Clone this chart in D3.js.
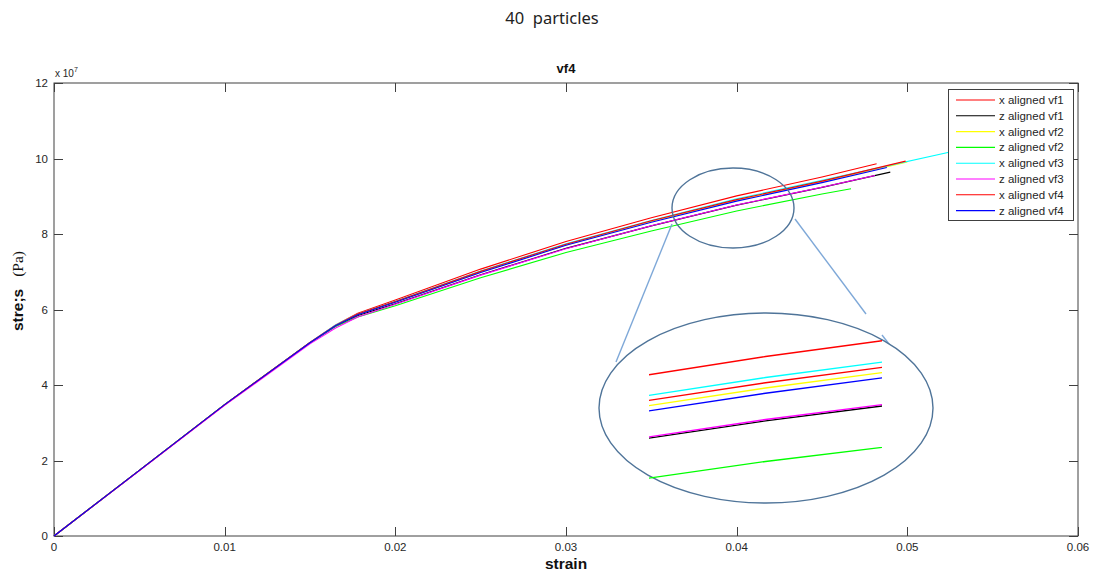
<!DOCTYPE html>
<html>
<head>
<meta charset="utf-8">
<script src="https://cdn.jsdelivr.net/npm/d3@7"></script>
<style>
  html, body { margin: 0; padding: 0; background: #fff; }
  svg { display: block; }
  text { white-space: pre; }
</style>
</head>
<body>
<svg id="chart" width="1099" height="577"></svg>
<script>
// ---------------- DATA (stress in units of 1e7 Pa) ----------------
const strainGrid = [0, 0.005, 0.010, 0.015, 0.0165, 0.0178, 0.020, 0.025, 0.030, 0.035, 0.040, 0.045];

const xAlignedVf1 = [0, 1.74, 3.48, 5.13, 5.59, 5.90, 6.25, 7.07, 7.80, 8.43, 9.01, 9.51];
const zAlignedVf1 = [0, 1.74, 3.48, 5.12, 5.56, 5.84, 6.15, 6.92, 7.62, 8.215, 8.765, 9.235];
const xAlignedVf2 = [0, 1.74, 3.48, 5.12, 5.58, 5.87, 6.20, 6.99, 7.71, 8.33, 8.89, 9.38];
const zAlignedVf2 = [0, 1.74, 3.48, 5.12, 5.55, 5.80, 6.10, 6.84, 7.51, 8.08, 8.61, 9.06];
const xAlignedVf3 = [0, 1.74, 3.48, 5.13, 5.59, 5.88, 6.22, 7.02, 7.74, 8.36, 8.93, 9.42];
const zAlignedVf3 = [0, 1.73, 3.46, 5.09, 5.51, 5.80, 6.14, 6.91, 7.61, 8.22, 8.77, 9.24];
const xAlignedVf4 = [0, 1.74, 3.48, 5.13, 5.58, 5.88, 6.21, 7.01, 7.73, 8.35, 8.91, 9.40];
const zAlignedVf4 = [0, 1.74, 3.48, 5.12, 5.57, 5.86, 6.19, 6.98, 7.70, 8.31, 8.87, 9.36];

// final point of each series (strain, stress)
const endStrain = [0.0482, 0.0490, 0.0500, 0.0467, 0.0535, 0.0481, 0.0499, 0.0488];
const endStress = [9.86, 9.64, 9.91, 9.20, 10.27, 9.55, 9.93, 9.76];

const seriesNames = ["x aligned vf1", "z aligned vf1", "x aligned vf2", "z aligned vf2",
                     "x aligned vf3", "z aligned vf3", "x aligned vf4", "z aligned vf4"];
const seriesStress = [xAlignedVf1, zAlignedVf1, xAlignedVf2, zAlignedVf2,
                      xAlignedVf3, zAlignedVf3, xAlignedVf4, zAlignedVf4];

const xTicks = [0, 0.01, 0.02, 0.03, 0.04, 0.05, 0.06];
const xTickLabels = ["0", "0.01", "0.02", "0.03", "0.04", "0.05", "0.06"];
const yTicks = [0, 2, 4, 6, 8, 10, 12];
const yTickLabels = ["0", "2", "4", "6", "8", "10", "12"];

// ---------------- STYLE ----------------
const seriesColors = ["#ff0000", "#000000", "#ffff00", "#00ff00", "#00ffff", "#ff00ff", "#ff0000", "#0000ff"];
const axisColor = "#404040";
const textColor = "#262626";

// ---------------- BUILD ----------------
const svg = d3.select("#chart");
const L = 54, R = 1078, T = 83, B = 536;
const x = d3.scaleLinear().domain([0, 0.06]).range([L, R]);
const y = d3.scaleLinear().domain([0, 12]).range([B, T]);

const series = seriesNames.map((name, i) => ({
  name, color: seriesColors[i],
  pts: strainGrid.map((s, k) => [s, seriesStress[i][k]]).concat([[endStrain[i], endStress[i]]])
}));

// super title
svg.append("text").attr("x", 552).attr("y", 24).attr("text-anchor", "middle")
  .attr("font-family", "Noto Sans, Open Sans, sans-serif").attr("font-size", 16.5)
  .attr("fill", "#222").text("40  particles");

// axes title
svg.append("text").attr("x", (L + R) / 2).attr("y", 73).attr("text-anchor", "middle")
  .attr("font-family", "Liberation Sans, Arial, sans-serif").attr("font-size", 13)
  .attr("font-weight", "bold").attr("fill", "#111").text("vf4");

// box
svg.append("rect").attr("x", L).attr("y", T).attr("width", R - L).attr("height", B - T)
  .attr("fill", "#fff").attr("stroke", axisColor).attr("stroke-width", 1);

// ticks (inward, all four sides)
const tickLen = 9;
const g = svg.append("g").attr("stroke", axisColor).attr("stroke-width", 1);
xTicks.forEach(t => {
  const px = Math.round(x(t)) + 0.5;
  g.append("line").attr("x1", px).attr("x2", px).attr("y1", B).attr("y2", B - tickLen);
  g.append("line").attr("x1", px).attr("x2", px).attr("y1", T).attr("y2", T + tickLen);
});
yTicks.forEach(t => {
  const py = Math.round(y(t)) + 0.5;
  g.append("line").attr("x1", L).attr("x2", L + tickLen).attr("y1", py).attr("y2", py);
  g.append("line").attr("x1", R).attr("x2", R - tickLen).attr("y1", py).attr("y2", py);
});

// tick labels
const tf = "Liberation Sans, Arial, sans-serif";
svg.append("g").selectAll("text").data(xTicks).join("text")
  .attr("x", d => x(d)).attr("y", B + 15).attr("text-anchor", "middle")
  .attr("font-family", tf).attr("font-size", 11.5).attr("fill", textColor)
  .text((d, i) => xTickLabels[i]);
svg.append("g").selectAll("text").data(yTicks).join("text")
  .attr("x", L - 6).attr("y", d => y(d) + 4).attr("text-anchor", "end")
  .attr("font-family", tf).attr("font-size", 11.5).attr("fill", textColor)
  .text((d, i) => yTickLabels[i]);

// exponent
const ex = svg.append("text").attr("x", L + 1).attr("y", 77)
  .attr("font-family", tf).attr("font-size", 10).attr("fill", textColor);
ex.append("tspan").text("x 10");
ex.append("tspan").attr("dy", -5).attr("font-size", 7).text("7");

// axis labels
svg.append("text").attr("x", (L + R) / 2).attr("y", 569).attr("text-anchor", "middle")
  .attr("font-family", tf).attr("font-size", 15.5).attr("font-weight", "bold")
  .attr("fill", "#111").text("strain");
const yl = svg.append("text").attr("transform", "translate(23,291) rotate(-90)")
  .attr("text-anchor", "middle").attr("fill", "#111");
yl.append("tspan").attr("font-family", tf).attr("font-size", 15.5).attr("font-weight", "bold").text("stre;s");
yl.append("tspan").attr("font-family", "Liberation Serif, Times New Roman, serif").attr("font-size", 15.5)
  .attr("dx", 12).text("(Pa)");

// series lines
const line = d3.line().x(d => x(d[0])).y(d => y(d[1]));
svg.append("g").selectAll("path").data(series).join("path")
  .attr("d", d => line(d.pts)).attr("fill", "none")
  .attr("stroke", d => d.color).attr("stroke-width", 1.1);

// ---------------- zoom annotation ----------------
const annColor = "#4f7499";
const connColor = "#7ea8d8";
svg.append("ellipse").attr("cx", 733).attr("cy", 208).attr("rx", 61).attr("ry", 40)
  .attr("fill", "none").attr("stroke", annColor).attr("stroke-width", 1.4);
svg.append("line").attr("x1", 672).attr("y1", 224).attr("x2", 616).attr("y2", 362)
  .attr("stroke", connColor).attr("stroke-width", 1.4);
svg.append("line").attr("x1", 795).attr("y1", 219).attr("x2", 866).attr("y2", 314)
  .attr("stroke", connColor).attr("stroke-width", 1.4);
svg.append("line").attr("x1", 882).attr("y1", 335).attr("x2", 896).attr("y2", 353)
  .attr("stroke", connColor).attr("stroke-width", 1.4);
svg.append("ellipse").attr("cx", 766).attr("cy", 408).attr("rx", 167).attr("ry", 95)
  .attr("fill", "#fff").attr("stroke", annColor).attr("stroke-width", 1.4);

// magnified view of the series near strain 0.04
const xIn = d3.scaleLinear().domain([0.0394, 0.0406]).range([649, 882]);
const yIn = d3.scaleLinear().domain([9.01, 8.61]).range([356.5, 461.5]);
svg.append("clipPath").attr("id", "inclip").append("rect")
  .attr("x", 649).attr("y", 300).attr("width", 233).attr("height", 220);
const lineIn = d3.line().x(d => xIn(d[0])).y(d => yIn(d[1]));
svg.append("g").attr("clip-path", "url(#inclip)").selectAll("path").data(series).join("path")
  .attr("d", d => lineIn(d.pts)).attr("fill", "none")
  .attr("stroke", d => d.color).attr("stroke-width", 1.3);

// ---------------- legend ----------------
const lg = svg.append("g");
lg.append("rect").attr("x", 948.5).attr("y", 89.5).attr("width", 125).attr("height", 131)
  .attr("fill", "#fff").attr("stroke", axisColor).attr("stroke-width", 1);
const rows = lg.selectAll("g.row").data(series).join("g")
  .attr("transform", (d, i) => `translate(0,${100 + i * 15.8})`);
rows.append("line").attr("x1", 956).attr("x2", 995).attr("y1", 0).attr("y2", 0)
  .attr("stroke", d => d.color).attr("stroke-width", 1.1);
rows.append("text").attr("x", 999).attr("y", 4)
  .attr("font-family", tf).attr("font-size", 11.5).attr("fill", textColor)
  .text(d => d.name);
</script>
</body>
</html>
